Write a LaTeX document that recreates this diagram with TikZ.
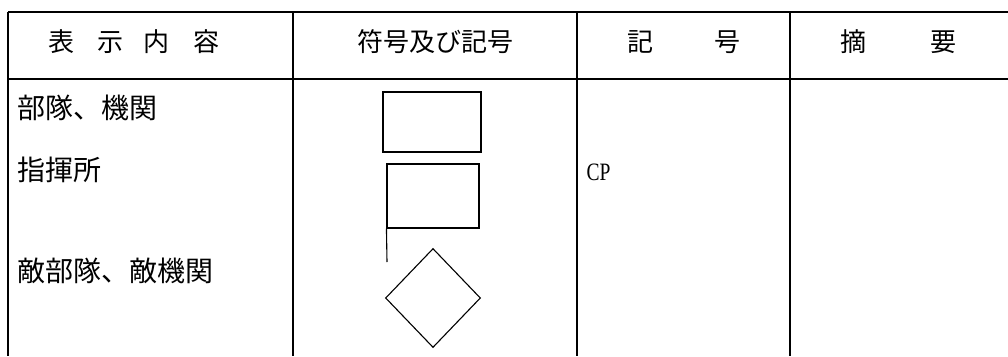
\documentclass[tikz,border=0pt]{standalone}
\usepackage{fontspec}
\newfontfamily\jp{Noto Sans CJK JP}
\newfontfamily\lat{Liberation Serif}
\usetikzlibrary{shapes.geometric}
\begin{document}
\begin{tikzpicture}[x=1pt, y=-1pt, line width=1.1pt,
          every node/.style = {inner sep=0pt, align=center},
          head/.style = {font=\jp\fontsize{26}{30}\selectfont},
          cell/.style = {anchor=west, font=\jp\fontsize{28}{32}\selectfont},
          sign/.style = {draw, shape=rectangle, minimum width=96pt, minimum height=60pt}]
          \useasboundingbox (0,0) rectangle (1008,356);
          % table rules
          \draw (8,12) -- (1008,12);
          \draw (8,79) -- (1008,79);
          \foreach \x in {8,293,577,790}
            \draw (\x,12) -- (\x,356);
          % header
          \node[head] (h1) at (134,42) {表\hspace{23pt}示\hspace{20pt}内\hspace{24pt}容};
          \node[head] (h2) at (435,42) {符号及び記号};
          \node[head] (h3) at (684,42) {記\hspace{62pt}号};
          \node[head] (h4) at (898,42) {摘\hspace{64pt}要};
          % rows
          \node[cell] (unit) at (17,108) {部隊、機関};
          \node[cell] (cp) at (17,170) {指揮所};
          \node[cell] (enemy) at (17,271) {敵部隊、敵機関};
          \node[anchor=west, font=\lat\fontsize{25}{28}\selectfont] (cpmark) at (586,172) {\scalebox{0.78}[1]{CP}};
          % signs
          \node[sign, minimum width=98pt] (unitsign) at (432,122) {};
          \node[sign, minimum width=92pt, minimum height=64pt] (flag) at (433,196) {};
          \coordinate (pole) at (387,262);
          \draw (flag.south west) -- (pole);
          \node[draw, shape=diamond, minimum width=95pt, minimum height=99pt] (enemysign) at (433,298) {};
\end{tikzpicture}
\end{document}
